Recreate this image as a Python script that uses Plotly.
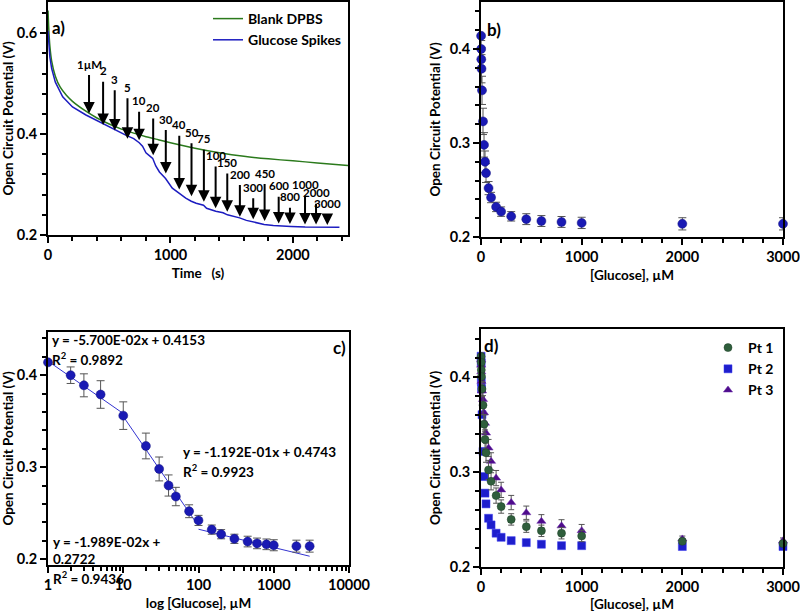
import math
import plotly.graph_objects as go

FONT = "Lato"

# ---------------- data ----------------
# Panel a: open circuit potential vs time
blank_t = [0, 5, 15, 30, 60, 100, 150, 200, 300, 400, 500, 600, 700, 800, 900, 1000,
           1200, 1400, 1600, 1800, 2000, 2200, 2450]
blank_v = [0.645, 0.615, 0.575, 0.545, 0.515, 0.493, 0.477, 0.465, 0.447, 0.432, 0.420,
           0.410, 0.402, 0.395, 0.389, 0.383, 0.372, 0.363, 0.356, 0.351, 0.347, 0.343, 0.338]

gluc_t = [0, 5, 15, 30, 60, 120, 200, 310, 420, 525, 635, 700, 745, 772, 800, 830, 855,
          880, 910, 960, 1015, 1070, 1125, 1170, 1210, 1270, 1295, 1370, 1430, 1465,
          1530, 1565, 1620, 1680, 1720, 1765, 1840, 1890, 1985, 2100, 2190, 2290, 2380]
gluc_v = [0.605, 0.585, 0.553, 0.530, 0.503, 0.474, 0.454, 0.438, 0.424, 0.411, 0.398,
          0.391, 0.383, 0.376, 0.363, 0.357, 0.352, 0.337, 0.325, 0.312, 0.293, 0.283,
          0.273, 0.267, 0.263, 0.259, 0.253, 0.247, 0.244, 0.240, 0.237, 0.234, 0.229,
          0.226, 0.223, 0.221, 0.219, 0.218, 0.217, 0.216, 0.2155, 0.2152, 0.2152]

spike_t = [335, 450, 545, 649, 744, 859, 962, 1072, 1172, 1273, 1369, 1464, 1567, 1676,
           1769, 1884, 1976, 2099, 2189, 2281]
spike_labels = ["1µM", "2", "3", "5", "10", "20", "30", "40", "50", "75", "100", "150",
                "200", "300", "450", "600", "800", "1000", "2000", "3000"]
arrow_tail_v = [0.520, 0.507, 0.490, 0.474, 0.4475, 0.434, 0.411, 0.400, 0.385, 0.372,
                0.339, 0.325, 0.302, 0.276, 0.304, 0.279, 0.257, 0.281, 0.265, 0.243]
arrow_tip_v = [0.441, 0.418, 0.407, 0.391, 0.388, 0.358, 0.322, 0.290, 0.277, 0.266,
               0.253, 0.246, 0.236, 0.231, 0.228, 0.223, 0.222, 0.221, 0.221, 0.220]

# Panels b, c: mean OCP vs glucose concentration
conc = [1, 2, 3, 5, 10, 20, 30, 40, 50, 75, 100, 150, 200, 300, 450, 600, 800, 1000, 2000, 3000]
ocp_mean = [0.414, 0.400, 0.389, 0.379, 0.356, 0.323, 0.298, 0.280, 0.268, 0.252, 0.242,
            0.232, 0.227, 0.222, 0.219, 0.217, 0.216, 0.215, 0.214, 0.214]
ocp_err = [0.002, 0.009, 0.0125, 0.015, 0.015, 0.014, 0.013, 0.0115, 0.010, 0.007, 0.0055,
           0.005, 0.005, 0.005, 0.0058, 0.0058, 0.0058, 0.006, 0.0065, 0.0065]

# Panel c: piecewise linear fits  y = slope*log10(x) + intercept
fit_slope = [-5.700e-02, -1.192e-01, -1.989e-02]
fit_intercept = [0.4153, 0.4743, 0.2722]
fit_r2 = [0.9892, 0.9923, 0.9436]
fit_from = [1, 10, 100]
fit_to = [10, 100, 3000]

# Panel d: three patients
pt1_v = [0.421, 0.415, 0.407, 0.400, 0.387, 0.370, 0.350, 0.334, 0.320, 0.302, 0.290,
         0.275, 0.2635, 0.250, 0.2424, 0.238, 0.2355, 0.2326, 0.227, 0.2246]
pt1_err = [0.004, 0.004, 0.005, 0.006, 0.008, 0.010, 0.010, 0.010, 0.010, 0.010, 0.009,
           0.008, 0.007, 0.006, 0.006, 0.006, 0.006, 0.006, 0.003, 0.003]
pt2_v = [0.4214, 0.4144, 0.395, 0.387, 0.360, 0.3214, 0.295, 0.2776, 0.2663, 0.2512,
         0.2442, 0.2355, 0.2312, 0.2277, 0.2256, 0.2239, 0.2224, 0.2224, 0.2215, 0.2215]
pt2_err = [0.002] * 20
pt3_v = [0.418, 0.412, 0.405, 0.395, 0.385, 0.376, 0.362, 0.351, 0.3407, 0.325, 0.311,
         0.2934, 0.281, 0.2677, 0.257, 0.248, 0.2432, 0.2382, 0.2295, 0.2275]
pt3_err = [0.004, 0.004, 0.005, 0.006, 0.007, 0.008, 0.009, 0.009, 0.009, 0.009, 0.009,
           0.008, 0.008, 0.0075, 0.007, 0.007, 0.0065, 0.0065, 0.003, 0.003]

# ---------------- styles ----------------
W, H = 800, 612
GREEN_LINE = "#2b7a1c"
BLUE = "#1c1cc0"
BLUE_MARK = "#1a1ab4"
GREEN_MARK = "#2f5e3c"
PURPLE = "#4e0c8c"
ERR = "#555555"


def px(x):
    return x / W


def py(y):
    return 1 - y / H


def axis(domain, rng, title, dtick, minor, tickvals=None, axtype="linear", anchor=None):
    d = dict(
        domain=domain, range=rng, type=axtype, automargin=False,
        showline=True, linecolor="black", linewidth=2, mirror=True,
        ticks="outside", ticklen=6, tickwidth=2, tickcolor="black",
        showgrid=False, zeroline=False, ticklabeloverflow="allow",
        tickfont=dict(family=FONT, size=14.5, color="black", weight="bold"),
        title=dict(text=title, font=dict(family=FONT, size=13.5, color="black", weight="bold"),
                   standoff=6),
        anchor=anchor,
    )
    if tickvals is not None:
        d["tickvals"] = tickvals
        d["ticktext"] = [str(v) for v in tickvals]
    else:
        d["dtick"] = dtick
    mstyle = dict(ticks="outside", ticklen=4, tickwidth=1.5, tickcolor="black", showgrid=False)
    if isinstance(minor, list):
        mstyle["tickvals"] = minor
    else:
        mstyle["dtick"] = minor
    d["minor"] = mstyle
    return d


fig = go.Figure()

# ---- panel a ----
fig.add_trace(go.Scatter(x=blank_t, y=blank_v, mode="lines", name="Blank DPBS",
                         line=dict(color=GREEN_LINE, width=1.5, shape="spline", smoothing=0.6),
                         xaxis="x", yaxis="y", legend="legend"))
fig.add_trace(go.Scatter(x=gluc_t, y=gluc_v, mode="lines", name="Glucose Spikes",
                         line=dict(color=BLUE, width=1.5),
                         xaxis="x", yaxis="y", legend="legend"))

# ---- panel b ----
fig.add_trace(go.Scatter(x=conc, y=ocp_mean, mode="markers", showlegend=False,
                         marker=dict(color=BLUE_MARK, size=9, line=dict(color="#101080", width=0.5)),
                         error_y=dict(type="data", array=ocp_err, color=ERR, thickness=1, width=4),
                         cliponaxis=False, xaxis="x2", yaxis="y2"))

# ---- panel c ----
for s, b0, a, z in zip(fit_slope, fit_intercept, fit_from, fit_to):
    xs = [a, z]
    ys = [s * math.log10(v) + b0 for v in xs]
    fig.add_trace(go.Scatter(x=xs, y=ys, mode="lines", showlegend=False,
                             line=dict(color="#3434d0", width=1),
                             cliponaxis=False, xaxis="x3", yaxis="y3"))
fig.add_trace(go.Scatter(x=conc, y=ocp_mean, mode="markers", showlegend=False,
                         marker=dict(color=BLUE_MARK, size=9, line=dict(color="#101080", width=0.5)),
                         error_y=dict(type="data", array=ocp_err, color=ERR, thickness=1, width=4),
                         cliponaxis=False, xaxis="x3", yaxis="y3"))

# ---- panel d ----
fig.add_trace(go.Scatter(x=conc, y=pt2_v, mode="markers", name="Pt 2", legendrank=2,
                         marker=dict(color="#1e1ecc", size=8, symbol="square",
                                     line=dict(color="#3a3af0", width=0.5)),
                         error_y=dict(type="data", array=pt2_err, color=ERR, thickness=1, width=3),
                         cliponaxis=False, xaxis="x4", yaxis="y4", legend="legend2"))
fig.add_trace(go.Scatter(x=conc, y=pt3_v, mode="markers", name="Pt 3", legendrank=3,
                         marker=dict(color=PURPLE, size=8, symbol="triangle-up",
                                     line=dict(color="#6a2aa8", width=0.5)),
                         error_y=dict(type="data", array=pt3_err, color=ERR, thickness=1, width=3),
                         cliponaxis=False, xaxis="x4", yaxis="y4", legend="legend2"))
fig.add_trace(go.Scatter(x=conc, y=pt1_v, mode="markers", name="Pt 1", legendrank=1,
                         marker=dict(color=GREEN_MARK, size=8, symbol="circle",
                                     line=dict(color="#1e4028", width=0.5)),
                         error_y=dict(type="data", array=pt1_err, color=ERR, thickness=1, width=3),
                         cliponaxis=False, xaxis="x4", yaxis="y4", legend="legend2"))

# ---------------- annotations ----------------
ann = []
for t, lab, tail, tip in zip(spike_t, spike_labels, arrow_tail_v, arrow_tip_v):
    ann.append(dict(x=t, y=tip, ax=t, ay=tail, xref="x", yref="y", axref="x", ayref="y",
                    text="", showarrow=True, arrowhead=2, arrowsize=1.15, arrowwidth=2,
                    arrowcolor="black"))
    ann.append(dict(x=t, y=tail, xref="x", yref="y", text=lab, showarrow=False,
                    yanchor="bottom", yshift=1,
                    font=dict(family=FONT, size=11.5, color="black", weight="bold")))

lab_font = dict(family=FONT, size=17, color="black", weight="bold")
ann.append(dict(x=px(50), y=py(15), xref="paper", yref="paper", text="a)", showarrow=False,
                xanchor="left", font=lab_font))
ann.append(dict(x=px(485), y=py(17), xref="paper", yref="paper", text="b)", showarrow=False,
                xanchor="left", font=lab_font))
ann.append(dict(x=px(348), y=py(347), xref="paper", yref="paper", text="c)", showarrow=False,
                xanchor="right", font=lab_font))
ann.append(dict(x=px(482), y=py(345), xref="paper", yref="paper", text="d)", showarrow=False,
                xanchor="left", font=lab_font))

eq_font = dict(family=FONT, size=13.5, color="black", weight="bold")

eq_lines = []
for s, b0 in zip(fit_slope, fit_intercept):
    m, e = ("%.3E" % s).split("E")
    eq_lines.append("y = %sE%s%02dx + %.4f" % (m, "-" if int(e) < 0 else "+", abs(int(e)), b0))

text_pos = [
    (eq_lines[0], 50, 340),
    ("R<sup>2</sup> = %.4f" % fit_r2[0], 50, 359),
    (eq_lines[1], 181, 452),
    ("R<sup>2</sup> = %.4f" % fit_r2[1], 181, 471),
    (eq_lines[2].rsplit(" ", 1)[0], 51, 542),
    (eq_lines[2].rsplit(" ", 1)[1], 51, 559),
    ("R<sup>2</sup> = %.4f" % fit_r2[2], 51, 578),
]
for txt, x0, y0 in text_pos:
    ann.append(dict(x=px(x0), y=py(y0), xref="paper", yref="paper", text=txt, showarrow=False,
                    xanchor="left", yanchor="middle", font=eq_font))

log_minor = [m * 10 ** k for k in range(4) for m in range(2, 10)]

fig.update_layout(
    width=W, height=H,
    margin=dict(l=0, r=0, t=0, b=0, autoexpand=False),
    paper_bgcolor="white", plot_bgcolor="white",
    font=dict(family=FONT, color="black"),
    xaxis=axis([px(48), px(348)], [0, 2450], "Time\u00a0\u00a0\u00a0(s)", 1000, 200, anchor="y"),
    yaxis=axis([py(235), py(2)], [0.2, 0.662], "Open Circuit Potential (V)", 0.2, 0.04, anchor="x"),
    xaxis2=axis([px(481), px(783)], [0, 3000], "[Glucose], µM", 1000, 200, anchor="y2"),
    yaxis2=axis([py(237), py(2)], [0.2, 0.45], "Open Circuit Potential (V)", 0.1, 0.02, anchor="x2"),
    xaxis3=axis([px(48), px(349)], [0, 4], "log [Glucose], µM", None, log_minor,
                tickvals=[1, 10, 100, 1000, 10000], axtype="log", anchor="y3"),
    yaxis3=axis([py(565), py(332)], [0.1935, 0.447], "Open Circuit Potential (V)", 0.1, 0.02, anchor="x3"),
    xaxis4=axis([px(481), px(783)], [0, 3000], "[Glucose], µM", 1000, 200, anchor="y4"),
    yaxis4=axis([py(567), py(329)], [0.2, 0.45], "Open Circuit Potential (V)", 0.1, 0.02, anchor="x4"),
    legend=dict(x=px(208), y=py(3), xanchor="left", yanchor="top", bgcolor="rgba(0,0,0,0)",
                font=dict(family=FONT, size=14, color="black", weight="bold"),
                itemwidth=30, tracegroupgap=0),
    legend2=dict(x=px(708), y=py(332), xanchor="left", yanchor="top", bgcolor="rgba(0,0,0,0)",
                 font=dict(family=FONT, size=14, color="black", weight="bold"),
                 itemwidth=30, traceorder="normal"),
    annotations=ann,
)

fig.write_html("out.html", config={"displayModeBar": False},
               post_script="document.body.style.margin='0';")
